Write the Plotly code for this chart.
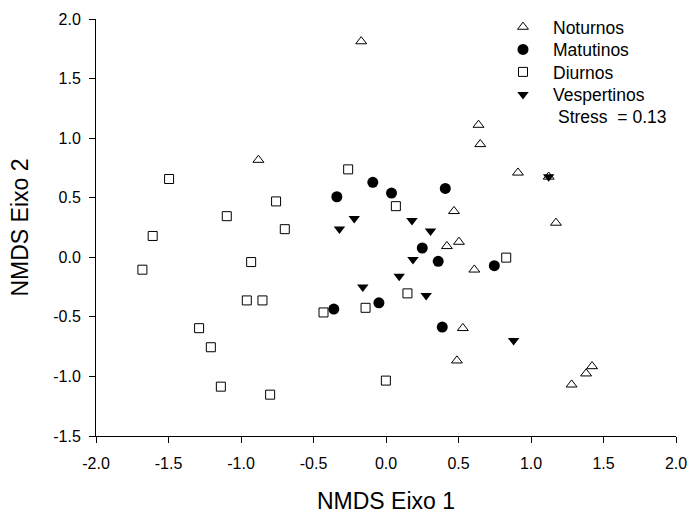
import plotly.graph_objects as go

# Data
noturnos_x = [-0.171, -0.880, 0.469, 0.420, 0.503, 0.530, 0.489, 0.638, 0.650, 0.910,
              1.122, 1.172, 0.609, 1.421, 1.380, 1.280]
noturnos_y = [1.812, 0.817, 0.387, 0.093, 0.129, -0.595, -0.867, 1.111, 0.949, 0.710,
              0.676, 0.289, -0.104, -0.915, -0.976, -1.069]

matutinos_x = [-0.091, 0.038, 0.409, -0.339, 0.250, 0.360, -0.360, -0.049, 0.388, 0.747]
matutinos_y = [0.629, 0.539, 0.578, 0.508, 0.078, -0.034, -0.435, -0.382, -0.586, -0.070]

diurnos_x = [-1.496, -1.098, -1.609, -1.680, -1.289, -1.208, -1.139, -0.261, -0.758, 0.068,
             -0.698, -0.930, 0.148, -0.960, -0.852, -0.431, -0.141, -0.001, -0.799, 0.829]
diurnos_y = [0.657, 0.345, 0.179, -0.104, -0.595, -0.755, -1.086, 0.738, 0.469, 0.429,
             0.236, -0.040, -0.303, -0.362, -0.362, -0.463, -0.424, -1.035, -1.153, -0.003]

vespertinos_x = [-0.219, -0.321, 0.179, 0.307, 0.186, 0.091, -0.160, 0.277, 0.880, 1.122]
vespertinos_y = [0.326, 0.238, 0.309, 0.221, -0.019, -0.160, -0.250, -0.320, -0.699, 0.676]

x_ticks = [-2.0, -1.5, -1.0, -0.5, 0.0, 0.5, 1.0, 1.5, 2.0]
y_ticks = [-1.5, -1.0, -0.5, 0.0, 0.5, 1.0, 1.5, 2.0]
stress_text = "Stress  = 0.13"

FONT = "Liberation Sans, Arial, sans-serif"
W, H = 691, 514
L, R, T, B = 96, 15, 19, 78
PW, PH = W - L - R, H - T - B


def px_x(p):
    return (p - L) / PW


def px_y(p):
    return (H - B - p) / PH


fig = go.Figure()
fig.add_trace(go.Scatter(x=noturnos_x, y=noturnos_y, mode="markers", name="Noturnos",
                         legend="legend",
                         marker=dict(symbol="triangle-up-open", size=9.5, color="black",
                                     line=dict(width=1, color="black"))))
fig.add_trace(go.Scatter(x=matutinos_x, y=matutinos_y, mode="markers", name="Matutinos",
                         legend="legend2",
                         marker=dict(symbol="circle", size=11, color="black",
                                     line=dict(width=0, color="black"))))
fig.add_trace(go.Scatter(x=diurnos_x, y=diurnos_y, mode="markers", name="Diurnos",
                         legend="legend3",
                         marker=dict(symbol="square-open", size=9, color="black",
                                     line=dict(width=1, color="black"))))
fig.add_trace(go.Scatter(x=vespertinos_x, y=vespertinos_y, mode="markers", name="Vespertinos",
                         legend="legend4",
                         marker=dict(symbol="triangle-down", size=10, color="black",
                                     line=dict(width=0, color="black"))))

axis_common = dict(showline=True, linecolor="black", linewidth=1, ticks="outside",
                   ticklen=6, tickwidth=1, tickcolor="black", showgrid=False,
                   zeroline=False, mirror=False, automargin=False,
                   tickfont=dict(family=FONT, size=16, color="black"))

fig.update_xaxes(range=[-2, 2], tickvals=x_ticks, ticktext=[f"{v:.1f}" for v in x_ticks],
                 title=dict(text="NMDS Eixo 1", font=dict(family=FONT, size=23, color="black"),
                            standoff=22),
                 ticklabelstandoff=7,
                 **axis_common)
fig.update_yaxes(range=[-1.5, 2], tickvals=y_ticks, ticktext=[f"{v:.1f}" for v in y_ticks],
                 title=dict(text="NMDS Eixo 2", font=dict(family=FONT, size=23, color="black"),
                            standoff=18),
                 ticklabelstandoff=5,
                 **axis_common)

fig.add_annotation(text=stress_text, xref="paper", yref="paper", x=px_x(556),
                   y=px_y(117), xanchor="left", yanchor="middle", showarrow=False,
                   font=dict(family=FONT, size=17.5, color="black"))

row_y = [27, 49.5, 72, 94.5]
legend_common = dict(xanchor="left", yanchor="middle", xref="container", yref="container",
                     bgcolor="rgba(0,0,0,0)", borderwidth=0, itemwidth=50,
                     itemsizing="trace",
                     font=dict(family=FONT, size=17.5, color="black"))
legends = {}
for i, ry in enumerate(row_y):
    key = "legend" if i == 0 else f"legend{i + 1}"
    legends[key] = dict(x=493 / W, y=1 - ry / H, **legend_common)

fig.update_layout(
    width=W, height=H,
    margin=dict(l=L, r=R, t=T, b=B, autoexpand=False),
    plot_bgcolor="white", paper_bgcolor="white",
    font=dict(family=FONT, color="black"),
    showlegend=True,
    **legends,
)

fig.write_html("out.html")
